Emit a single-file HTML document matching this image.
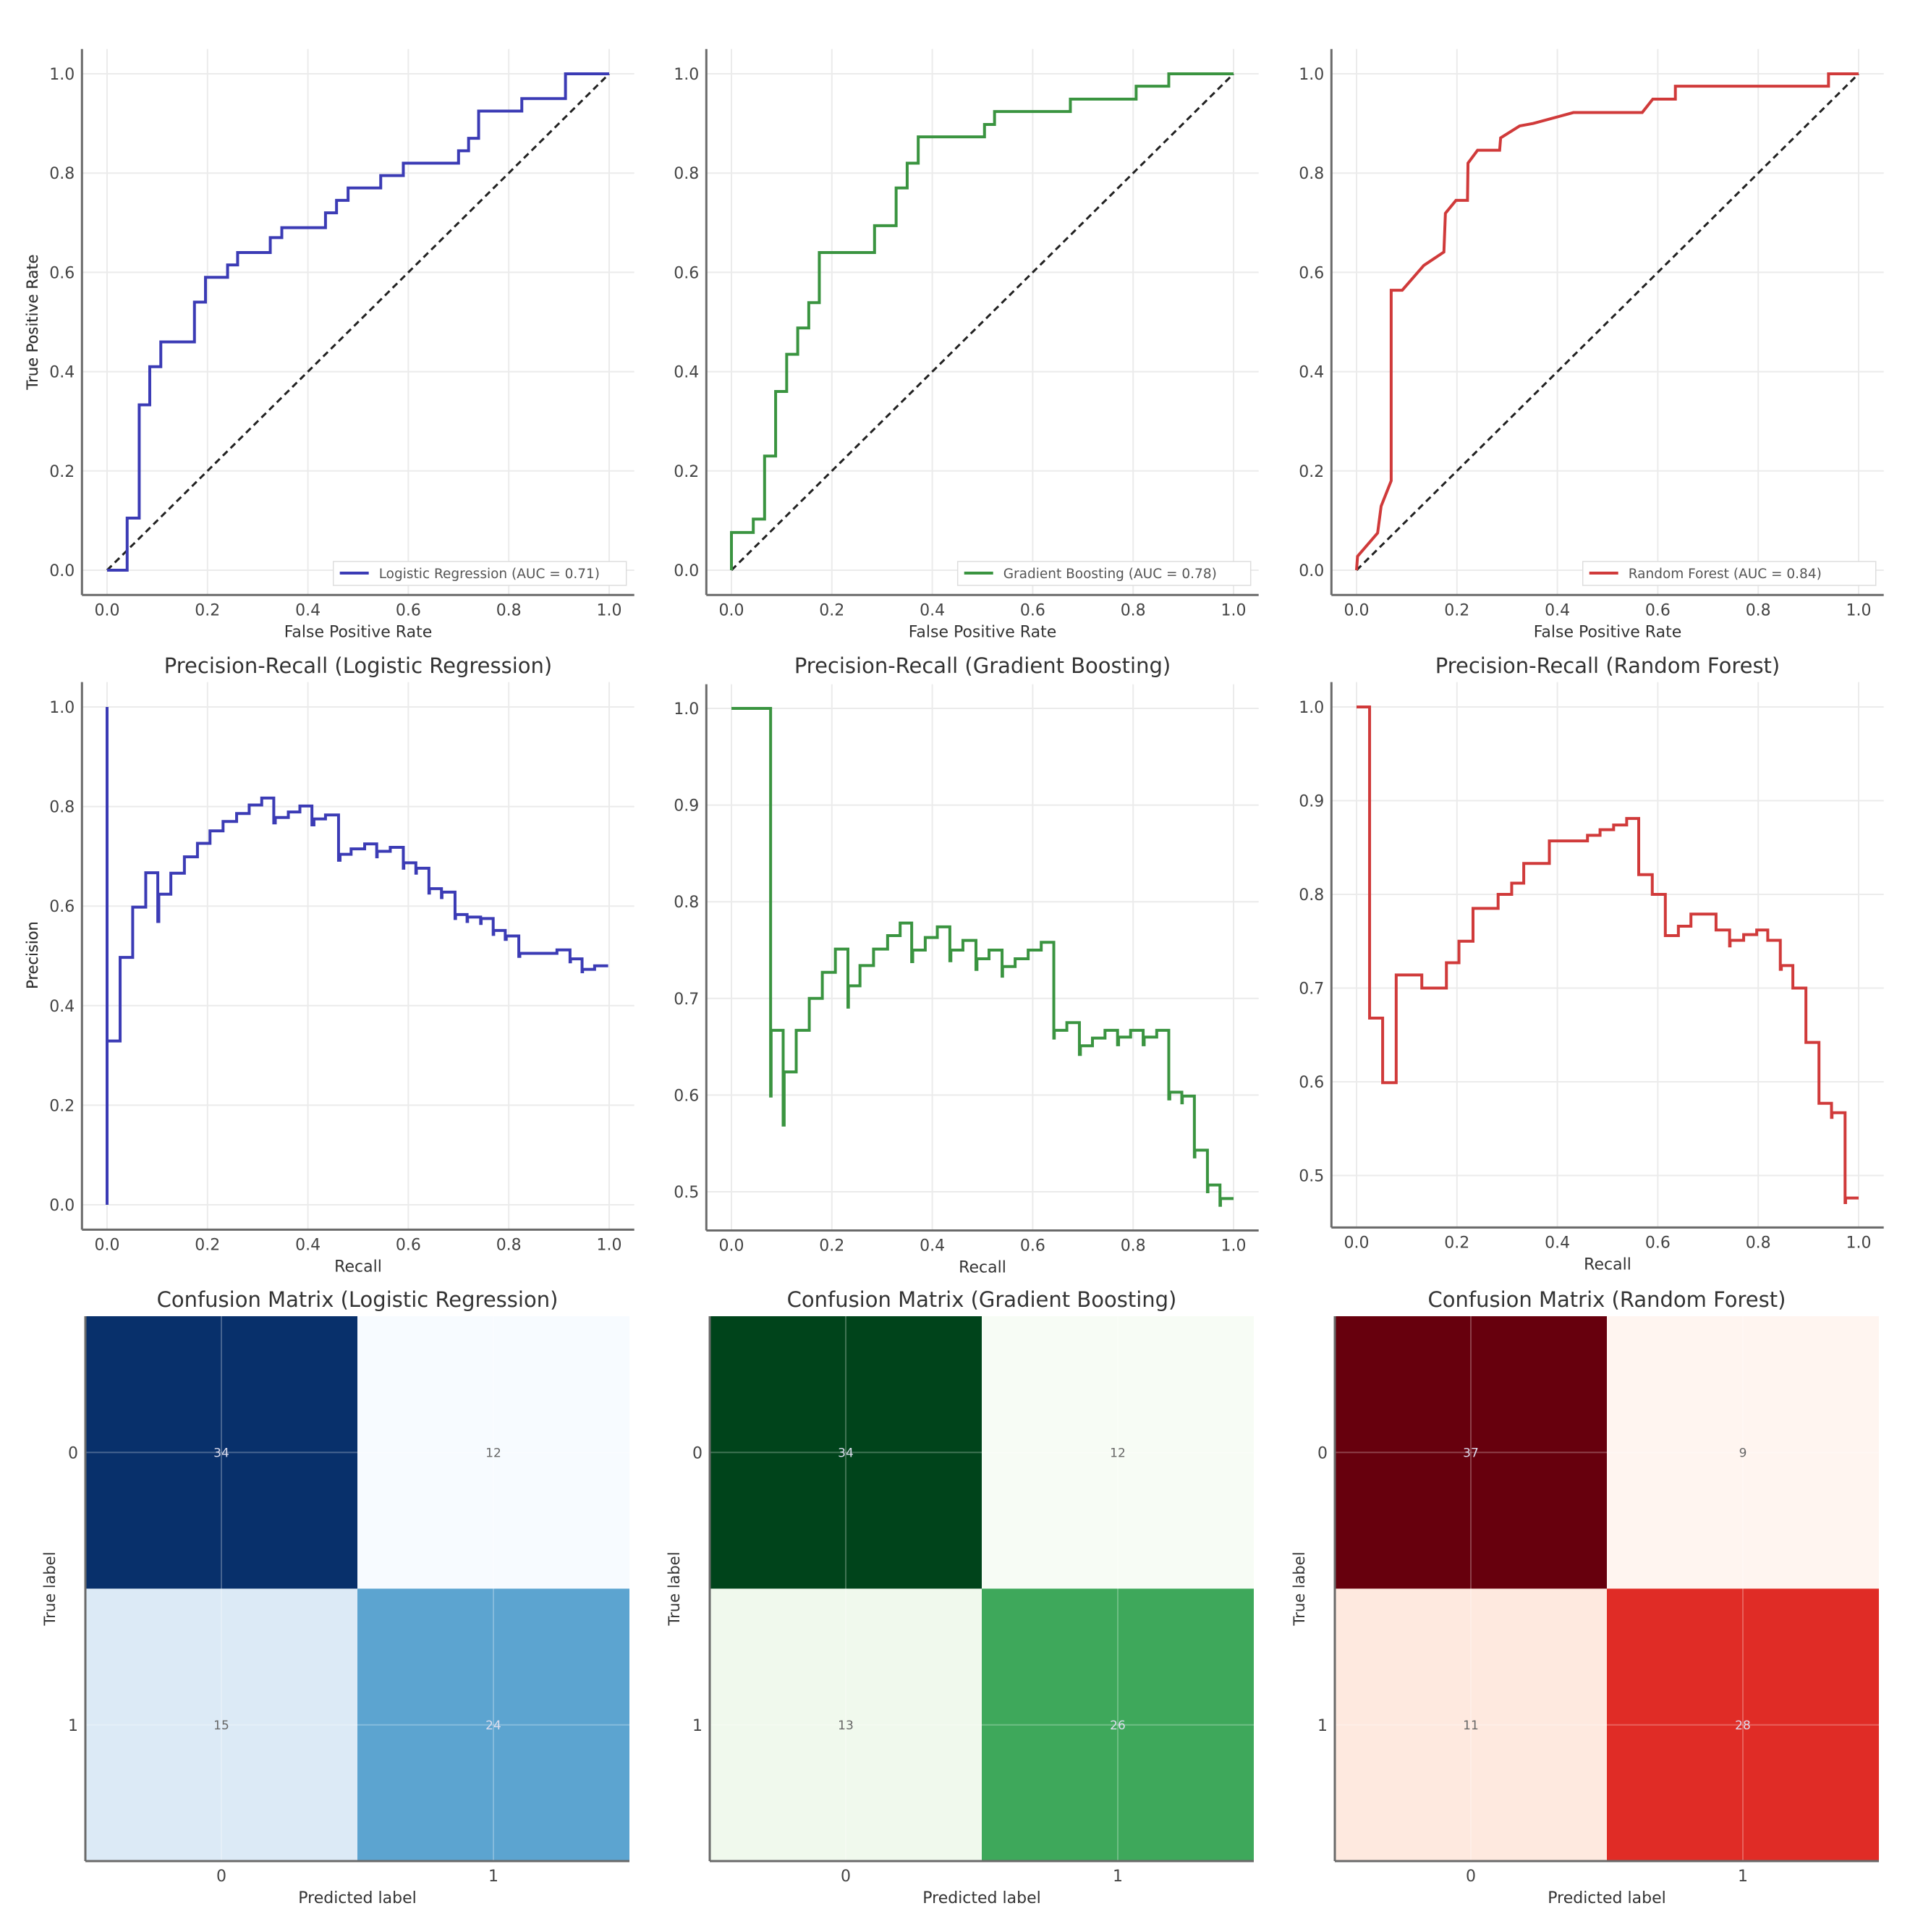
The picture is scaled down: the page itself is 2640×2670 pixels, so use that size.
<!DOCTYPE html>
<html><head><meta charset="utf-8">
<style>
html,body{margin:0;padding:0;background:#fff;}
svg{display:block;}
text{font-family:"DejaVu Sans","Liberation Sans",sans-serif;}
</style></head>
<body>
<svg id="fig" width="2640" height="2670" viewBox="0 0 2640 2670" xmlns="http://www.w3.org/2000/svg"></svg>
<script>
// ---------- data ----------
const modelNames = ["Logistic Regression", "Gradient Boosting", "Random Forest"];
const aucValues = [0.71, 0.78, 0.84];
const tickLabels01 = [0.0, 0.2, 0.4, 0.6, 0.8, 1.0];
const tickLabelsPR2 = [0.5, 0.6, 0.7, 0.8, 0.9, 1.0];
const cmClassLabels = ["0", "1"];

// ROC step points (fpr where jump happens, tpr after jump)
const rocLrFpr = [0,0.04,0.064,0.085,0.107,0.174,0.196,0.24,0.26,0.325,0.348,0.435,0.457,0.48,0.545,0.59,0.70,0.72,0.74,0.826,0.913,1.0];
const rocLrTpr = [0,0.105,0.333,0.41,0.46,0.54,0.59,0.615,0.64,0.67,0.69,0.72,0.745,0.77,0.795,0.82,0.845,0.87,0.925,0.95,1.0,1.0];
const rocGbFpr = [0,0,0.0435,0.066,0.088,0.11,0.132,0.154,0.175,0.285,0.328,0.35,0.372,0.504,0.524,0.675,0.806,0.871,1.0];
const rocGbTpr = [0,0.076,0.103,0.23,0.36,0.435,0.488,0.539,0.64,0.694,0.77,0.82,0.873,0.898,0.924,0.949,0.975,1.0,1.0];
// Random forest ROC (polyline vertices)
const rocRfFpr = [0,0.002,0.042,0.049,0.069,0.069,0.091,0.134,0.174,0.177,0.198,0.221,0.222,0.241,0.285,0.287,0.325,0.352,0.432,0.569,0.59,0.635,0.635,0.94,0.94,1.0];
const rocRfTpr = [0,0.028,0.075,0.129,0.18,0.564,0.564,0.614,0.641,0.719,0.745,0.745,0.82,0.846,0.846,0.871,0.895,0.9,0.922,0.922,0.949,0.949,0.975,0.975,1.0,1.0];

// Precision-recall step points
const prLrRec = [0,0,0,0.026,0.051,0.077,0.101,0.103,0.127,0.154,0.18,0.205,0.231,0.258,0.283,0.308,0.332,0.335,0.361,0.384,0.408,0.412,0.435,0.461,0.464,0.486,0.513,0.537,0.538,0.564,0.59,0.591,0.615,0.616,0.641,0.642,0.666,0.667,0.693,0.694,0.717,0.718,0.744,0.745,0.769,0.77,0.793,0.795,0.82,0.822,0.896,0.922,0.923,0.946,0.947,0.971,0.998];
const prLrPrec = [0,1.0,0.329,0.497,0.598,0.667,0.569,0.624,0.666,0.699,0.726,0.751,0.77,0.786,0.803,0.817,0.767,0.778,0.789,0.801,0.763,0.775,0.783,0.692,0.704,0.715,0.725,0.699,0.71,0.718,0.676,0.687,0.666,0.676,0.626,0.635,0.617,0.628,0.575,0.583,0.569,0.578,0.565,0.575,0.543,0.551,0.533,0.54,0.499,0.505,0.512,0.488,0.494,0.468,0.473,0.48,0.48];
const prGbRec = [0,0.078,0.079,0.103,0.105,0.129,0.155,0.181,0.207,0.232,0.233,0.256,0.283,0.311,0.336,0.359,0.361,0.386,0.41,0.435,0.437,0.461,0.487,0.489,0.513,0.539,0.54,0.565,0.591,0.617,0.642,0.643,0.668,0.693,0.695,0.719,0.744,0.769,0.771,0.795,0.82,0.822,0.847,0.871,0.873,0.897,0.898,0.922,0.923,0.948,0.949,0.973,0.974,1.0];
const prGbPrec = [1.0,0.599,0.667,0.569,0.624,0.667,0.7,0.727,0.751,0.691,0.713,0.734,0.751,0.765,0.778,0.738,0.75,0.763,0.774,0.739,0.75,0.76,0.73,0.741,0.75,0.723,0.733,0.741,0.75,0.758,0.659,0.667,0.675,0.642,0.651,0.659,0.667,0.652,0.66,0.667,0.652,0.66,0.667,0.596,0.603,0.592,0.599,0.536,0.543,0.5,0.507,0.486,0.493,0.493];
const prRfRec = [0,0.026,0.052,0.079,0.13,0.179,0.204,0.232,0.282,0.309,0.333,0.384,0.46,0.485,0.512,0.538,0.562,0.589,0.615,0.641,0.666,0.716,0.743,0.744,0.771,0.797,0.819,0.844,0.846,0.869,0.895,0.921,0.946,0.947,0.973,0.974,1.0];
const prRfPrec = [1.0,0.668,0.599,0.714,0.7,0.727,0.75,0.785,0.8,0.812,0.833,0.857,0.863,0.869,0.874,0.881,0.821,0.8,0.756,0.766,0.779,0.762,0.745,0.751,0.757,0.762,0.751,0.72,0.724,0.7,0.642,0.577,0.562,0.567,0.471,0.476,0.476];

// Confusion matrices [[TN,FP],[FN,TP]]
const cmLr = [[34,12],[15,24]];
const cmGb = [[34,12],[13,26]];
const cmRf = [[37,9],[11,28]];

// ---------- helpers ----------
const NS = "http://www.w3.org/2000/svg";
const fig = document.getElementById("fig");
function mk(tag, attrs, parent, text){
  const e = document.createElementNS(NS, tag);
  for (const k in attrs) e.setAttribute(k, attrs[k]);
  if (text !== undefined) e.textContent = text;
  (parent || fig).appendChild(e);
  return e;
}
const lineColors = ["#3b3bb5", "#3a9440", "#d03a3a"];
const colX0 = [148, 1011, 1875];
const XW = 694;
const GRID = "#ebebeb", SPINE = "#6a6a6a", TXT = "#444";

function fmt(v){ return v.toFixed(1); }

function axesFrame(g, sx, sy, xlo, xhi, ylo, yhi, yticks, xlabel, ylabel, ylabelY){
  const L = sx(xlo), R = sx(xhi), T = sy(yhi), B = sy(ylo);
  tickLabels01.forEach(t => {
    const gl = mk("line", {x1:sx(t), x2:sx(t), y1:T, y2:B, stroke:GRID, "stroke-width":2}, g);
    
    
    const tl = mk("text", {x:sx(t), y:B+28, "text-anchor":"middle", "font-size":22, fill:TXT}, g, fmt(t));
    
    
  });
  yticks.forEach(t => {
    const gl = mk("line", {x1:L, x2:R, y1:sy(t), y2:sy(t), stroke:GRID, "stroke-width":2}, g);
    
    
    const tl = mk("text", {x:L-10, y:sy(t)+8, "text-anchor":"end", "font-size":22, fill:TXT}, g, fmt(t));
    
    
  });
  const sp1 = mk("line", {x1:L, x2:L, y1:T, y2:B, stroke:SPINE, "stroke-width":3}, g);
  
  
  const sp2 = mk("line", {x1:L, x2:R, y1:B, y2:B, stroke:SPINE, "stroke-width":3}, g);
  
  
  const xl = mk("text", {x:(L+R)/2, y:B+58, "text-anchor":"middle", "font-size":22, fill:"#333"}, g, xlabel);
  
  
  const yl = mk("text", {x:0, y:0, transform:`translate(52,${ylabelY}) rotate(-90)`, "text-anchor":"middle", "font-size":21, fill:"#333"}, g, ylabel);
  
  
}

function stepPath(xs, ys, sx, sy){
  let d = `M${sx(xs[0])},${sy(ys[0])}`;
  for (let i = 1; i < xs.length; i++) d += ` L${sx(xs[i])},${sy(ys[i-1])} L${sx(xs[i])},${sy(ys[i])}`;
  return d;
}
function polyPath(xs, ys, sx, sy){
  return xs.map((x,i)=>(i?"L":"M")+sx(x)+","+sy(ys[i])).join(" ");
}

// ---------- ROC row ----------
const rocData = [[rocLrFpr, rocLrTpr, "step"], [rocGbFpr, rocGbTpr, "step"], [rocRfFpr, rocRfTpr, "poly"]];
rocData.forEach((rd, c) => {
  const g = mk("g", {});
  
  
  const sx = v => colX0[c] + v * XW;
  const sy = v => 788 - v * 686;
  axesFrame(g, sx, sy, -0.05, 1.05, -0.05, 1.05, tickLabels01, "False Positive Rate", "True Positive Rate", 445);
  const diag = mk("line", {x1:sx(0), y1:sy(0), x2:sx(1), y2:sy(1), stroke:"#222", "stroke-width":3, "stroke-dasharray":"9,6"}, g);
  
  
  const d = rd[2] === "step" ? stepPath(rd[0], rd[1], sx, sy) : polyPath(rd[0], rd[1], sx, sy);
  const p = mk("path", {d:d, fill:"none", stroke:lineColors[c], "stroke-width":4}, g);
  
  
  const lx = sx(1.05) - 416, ly = 776;
  const lg = mk("g", {}, g);
  
  
  mk("rect", {x:lx, y:ly, width:405, height:33, fill:"#fff", stroke:"#ddd", "stroke-width":1.5}, lg);
  const ls = mk("line", {x1:lx+9, x2:lx+49, y1:ly+16, y2:ly+16, stroke:lineColors[c], "stroke-width":4}, lg);
  
  
  const lt = mk("text", {x:lx+63, y:ly+23, "font-size":18.5, fill:"#555"}, lg, `${modelNames[c]} (AUC = ${aucValues[c].toFixed(2)})`);
  
  
});

// ---------- PR row ----------
const prData = [[prLrRec, prLrPrec], [prGbRec, prGbPrec], [prRfRec, prRfPrec]];
const prScales = [
  {top:977, unit:688, lo:-0.05, hi:1.05, ticks:tickLabels01},
  {top:979, unit:1336, lo:0.46, hi:1.025, ticks:tickLabelsPR2},
  {top:977, unit:1295, lo:0.4445, hi:1.0265, ticks:tickLabelsPR2}
];
prData.forEach((pd, c) => {
  const g = mk("g", {});
  
  
  const s = prScales[c];
  const sx = v => colX0[c] + v * XW;
  const sy = v => s.top + (1 - v) * s.unit;
  axesFrame(g, sx, sy, -0.05, 1.05, s.lo, s.hi, s.ticks, "Recall", "Precision", 1320);
  const t = mk("text", {x:sx(0.5), y:930, "text-anchor":"middle", "font-size":29, fill:"#333"}, g, `Precision-Recall (${modelNames[c]})`);
  
  
  const p = mk("path", {d:stepPath(pd[0], pd[1], sx, sy), fill:"none", stroke:lineColors[c], "stroke-width":4}, g);
  
  
});

// ---------- Confusion matrices ----------
const cms = [cmLr, cmGb, cmRf];
const cmaps = [
  ["#f7fbff","#deebf7","#c6dbef","#9ecae1","#6baed6","#4292c6","#2171b5","#08519c","#08306b"],
  ["#f7fcf5","#e5f5e0","#c7e9c0","#a1d99b","#74c476","#41ab5d","#238b45","#006d2c","#00441b"],
  ["#fff5f0","#fee0d2","#fcbba1","#fc9272","#fb6a4a","#ef3b2c","#cb181d","#a50f15","#67000d"]
];
function hex2rgb(h){ return [1,3,5].map(i=>parseInt(h.substr(i,2),16)); }
function cmapColor(stops, t){
  t = Math.max(0, Math.min(1, t));
  const f = t * (stops.length - 1), i = Math.min(Math.floor(f), stops.length - 2), r = f - i;
  const a = hex2rgb(stops[i]), b = hex2rgb(stops[i+1]);
  return "rgb(" + a.map((v,k)=>Math.round(v + (b[k]-v)*r)).join(",") + ")";
}
const cmLeft = [118, 981, 1845], cmTop = 1819, cmSize = 752, cmH = 753;
cms.forEach((m, c) => {
  const g = mk("g", {});
  
  
  const flat = m.flat(), mn = Math.min(...flat), mx = Math.max(...flat);
  const cw = cmSize / 2, ch = cmH / 2, L = cmLeft[c];
  const t = mk("text", {x:L + cmSize/2, y:1806, "text-anchor":"middle", "font-size":29, fill:"#333"}, g, `Confusion Matrix (${modelNames[c]})`);
  
  
  for (let r = 0; r < 2; r++) for (let k = 0; k < 2; k++) {
    const v = m[r][k], tn = (v - mn) / (mx - mn);
    const cell = mk("rect", {x:L + k*cw, y:cmTop + r*ch, width:cw, height:ch, fill:cmapColor(cmaps[c], tn)}, g);
    
    
  }
  [0,1].forEach(i => {
    mk("line", {x1:L + cw*(i+0.5), x2:L + cw*(i+0.5), y1:cmTop, y2:cmTop+cmH, stroke:"#fff", "stroke-opacity":0.25, "stroke-width":2}, g);
    mk("line", {x1:L, x2:L+cmSize, y1:cmTop + ch*(i+0.5), y2:cmTop + ch*(i+0.5), stroke:"#fff", "stroke-opacity":0.25, "stroke-width":2}, g);
  });
  for (let r = 0; r < 2; r++) for (let k = 0; k < 2; k++) {
    const v = m[r][k], tn = (v - mn) / (mx - mn);
    const lbl = mk("text", {x:L + cw*(k+0.5), y:cmTop + ch*(r+0.5) + 6, "text-anchor":"middle", "font-size":17, fill: tn > 0.5 ? "#dde" : "#666"}, g, String(v));
    
    
  }
  const s1 = mk("line", {x1:L, x2:L, y1:cmTop, y2:cmTop+cmH, stroke:SPINE, "stroke-width":3}, g);
  
  
  const s2 = mk("line", {x1:L, x2:L+cmSize, y1:cmTop+cmH, y2:cmTop+cmH, stroke:SPINE, "stroke-width":3}, g);
  
  
  cmClassLabels.forEach((lab, i) => {
    const yt = mk("text", {x:L-10, y:cmTop + ch*(i+0.5) + 8, "text-anchor":"end", "font-size":22, fill:TXT}, g, lab);
    
    
    const xt = mk("text", {x:L + cw*(i+0.5), y:cmTop+cmH+28, "text-anchor":"middle", "font-size":22, fill:TXT}, g, lab);
    
    
  });
  const xl = mk("text", {x:L + cmSize/2, y:2630, "text-anchor":"middle", "font-size":22, fill:"#333"}, g, "Predicted label");
  
  
  const yl = mk("text", {x:0, y:0, transform:`translate(${L-42},${cmTop+cmH/2}) rotate(-90)`, "text-anchor":"middle", "font-size":21, fill:"#333"}, g, "True label");
  
  
});
</script>
</body></html>
